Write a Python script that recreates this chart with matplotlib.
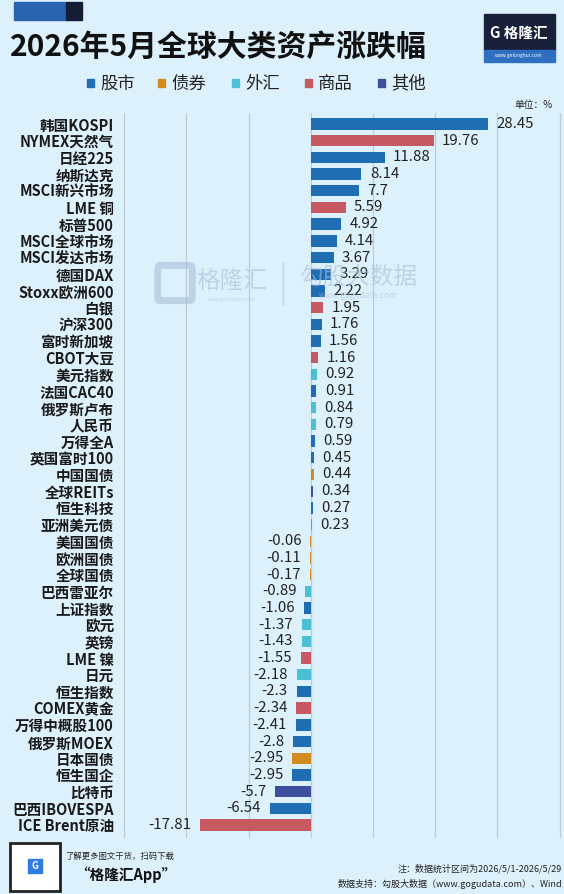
import matplotlib.pyplot as plt
from matplotlib.patches import Rectangle, FancyBboxPatch

plt.rcParams['font.family'] = ['Noto Sans CJK SC', 'DejaVu Sans']

# data (May 2026, % change)
names = ['韩国KOSPI', 'NYMEX天然气', '日经225', '纳斯达克', 'MSCI新兴市场', 'LME 铜',
         '标普500', 'MSCI全球市场', 'MSCI发达市场', '德国DAX', 'Stoxx欧洲600', '白银',
         '沪深300', '富时新加坡', 'CBOT大豆', '美元指数', '法国CAC40', '俄罗斯卢布',
         '人民币', '万得全A', '英国富时100', '中国国债', '全球REITs', '恒生科技',
         '亚洲美元债', '美国国债', '欧洲国债', '全球国债', '巴西雷亚尔', '上证指数',
         '欧元', '英镑', 'LME 镍', '日元', '恒生指数', 'COMEX黄金', '万得中概股100',
         '俄罗斯MOEX', '日本国债', '恒生国企', '比特币', '巴西IBOVESPA', 'ICE Brent原油']
values = [28.45, 19.76, 11.88, 8.14, 7.7, 5.59, 4.92, 4.14, 3.67, 3.29, 2.22, 1.95,
          1.76, 1.56, 1.16, 0.92, 0.91, 0.84, 0.79, 0.59, 0.45, 0.44, 0.34, 0.27,
          0.23, -0.06, -0.11, -0.17, -0.89, -1.06, -1.37, -1.43, -1.55, -2.18, -2.3,
          -2.34, -2.41, -2.8, -2.95, -2.95, -5.7, -6.54, -17.81]
groups = ['股市', '商品', '股市', '股市', '股市', '商品', '股市', '股市', '股市', '股市',
          '股市', '商品', '股市', '股市', '商品', '外汇', '股市', '外汇', '外汇', '股市',
          '股市', '债券', '其他', '股市', '债券', '债券', '债券', '债券', '外汇', '股市',
          '外汇', '外汇', '商品', '外汇', '股市', '商品', '股市', '股市', '债券', '股市',
          '其他', '股市', '商品']
legend_names = ['股市', '债券', '外汇', '商品', '其他']

colors = {'股市': '#1f6db3', '债券': '#d18b1e', '外汇': '#4bbfd3',
          '商品': '#c65a62', '其他': '#3e4f9e'}
bg = '#ddf1fc'
W, H = 564, 894


def fx(px):
  return px / W


def fy(py):
  return 1 - py / H


fig = plt.figure(figsize=(W / 100, H / 100), dpi=100, facecolor=bg)

# header decoration
fig.patches.append(Rectangle((fx(14), fy(20)), fx(52), 18 / H, color='#2a63b0',
                             transform=fig.transFigure, zorder=1))
fig.patches.append(Rectangle((fx(66), fy(20)), fx(16), 18 / H, color='#141d36',
                             transform=fig.transFigure, zorder=1))
fig.text(fx(10), fy(47), '2026年5月全球大类资产涨跌幅', fontsize=21.5, fontweight='bold',
         color='#111111', va='center', ha='left')

# logo top right
fig.patches.append(Rectangle((fx(484), fy(50)), fx(71), 36 / H, color='#18203a',
                             transform=fig.transFigure, zorder=1))
fig.patches.append(Rectangle((fx(484), fy(62)), fx(71), 12 / H, color='#2f6fc0',
                             transform=fig.transFigure, zorder=1))
fig.text(fx(519), fy(33), 'G 格隆汇', fontsize=10.5, fontweight='bold', color='white',
         ha='center', va='center', zorder=2)
fig.text(fx(519), fy(56), 'www.gelonghui.com', fontsize=3.5, color='white',
         ha='center', va='center', zorder=2)

# legend
leg_x = [87, 158, 232, 305, 378]
for lx, g in zip(leg_x, legend_names):
  fig.patches.append(Rectangle((fx(lx), fy(87)), fx(7), 7.5 / H, color=colors[g],
                               transform=fig.transFigure))
  fig.text(fx(lx + 13), fy(83.5), g, fontsize=12.5, color='#222222', va='center', ha='left')

fig.text(fx(553), fy(105), '单位：%', fontsize=7, color='#222222', ha='right', va='center')

# bars
ax = fig.add_axes([fx(118), (H - 838) / H, fx(446), 725 / H])
ax.set_facecolor(bg)
y = list(range(len(names)))
ax.barh(y, values, height=0.68, color=[colors[g] for g in groups], zorder=3)
ax.set_xlim(-31, 40.7)
ax.set_ylim(42.78, -0.66)
ax.set_xticks([-30, -20, -10, 0, 10, 20, 30, 40])
ax.xaxis.grid(True, color='#bccbd6', linewidth=0.9, zorder=0)
ax.tick_params(axis='x', length=0, labelbottom=False)
ax.tick_params(axis='y', length=0, pad=3)
ax.set_yticks(y)
ax.set_yticklabels(names, fontsize=10.5, fontweight='bold', color='#1a1a1a')
for s in ax.spines.values():
  s.set_visible(False)

for yi, v in zip(y, values):
  if v >= 0:
    ax.annotate(f'{v:g}', (v, yi), xytext=(6, 0), textcoords='offset points',
                ha='left', va='center', fontsize=10.8, color='#222222', zorder=4)
  else:
    ax.annotate(f'{v:g}', (v, yi), xytext=(-6.5, 0), textcoords='offset points',
                ha='right', va='center', fontsize=10.8, color='#222222', zorder=4)

# watermark
wm = '#a9c0d6'
fig.patches.append(FancyBboxPatch((fx(160), fy(297)), fx(30), 28 / H,
                                  boxstyle='round,pad=0.004', facecolor='none',
                                  edgecolor=wm, linewidth=5, alpha=0.6,
                                  transform=fig.transFigure))
fig.text(fx(232), fy(281), '格隆汇', fontsize=17, color=wm, alpha=0.6, ha='center', va='center')
fig.text(fx(232), fy(299), 'www.gelonghui.com', fontsize=3.5, color=wm, alpha=0.6,
         ha='center', va='center')
fig.lines.append(plt.Line2D([fx(283), fx(283)], [fy(262), fy(305)], color=wm, alpha=0.6,
                            linewidth=1, transform=fig.transFigure))
fig.text(fx(358), fy(277), '勾股大数据', fontsize=17, color=wm, alpha=0.6, ha='center',
         va='center')
fig.text(fx(358), fy(295), 'www.gogudata.com', fontsize=6, color=wm, alpha=0.6,
         ha='center', va='center')

# footer
fig.patches.append(Rectangle((fx(10), fy(891)), fx(50), 48 / H, facecolor='white',
                             edgecolor='#222222', linewidth=2, transform=fig.transFigure))
fig.patches.append(Rectangle((fx(28), fy(873)), fx(14), 14 / H, color='#2f7de0',
                             transform=fig.transFigure))
fig.text(fx(35), fy(866), 'G', fontsize=7, fontweight='bold', color='white', ha='center',
         va='center')
fig.text(fx(65), fy(856), '了解更多图文干货，扫码下载', fontsize=6, color='#222222',
         ha='left', va='center')
fig.text(fx(75), fy(875), '“格隆汇App”', fontsize=10.5, fontweight='bold', color='#111111',
         ha='left', va='center')
fig.text(fx(562), fy(869), '注：数据统计区间为2026/5/1-2026/5/29', fontsize=6.5,
         color='#222222', ha='right', va='center')
fig.text(fx(562), fy(884), '数据支持：勾股大数据（www.gogudata.com）、Wind', fontsize=6.5,
         color='#222222', ha='right', va='center')

fig.savefig('out.png', dpi=100, facecolor=bg)
